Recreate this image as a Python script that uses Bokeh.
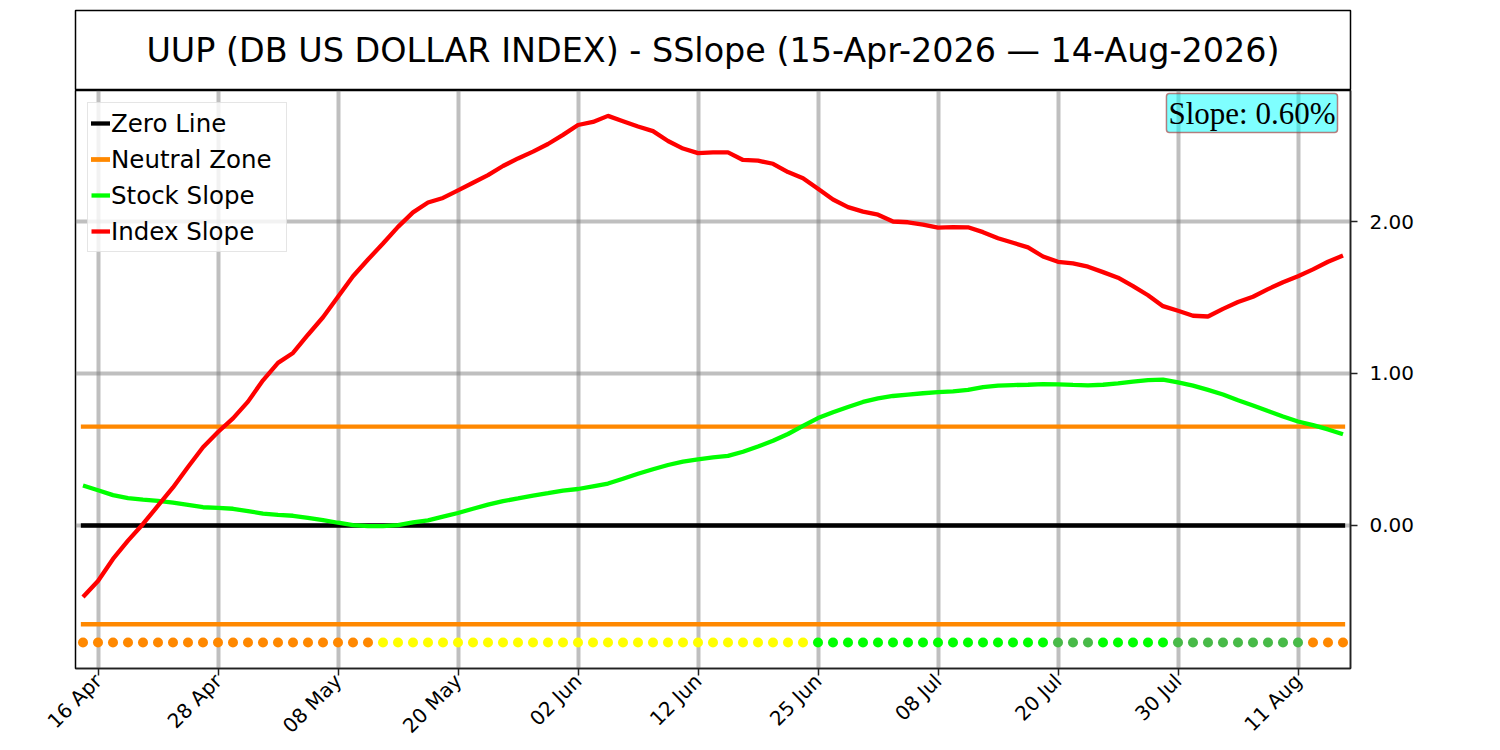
from bokeh.plotting import figure
from bokeh.models import Range1d, FixedTicker, Label, ColumnDataSource
from bokeh.layouts import column
from bokeh.embed import file_html
from bokeh.resources import INLINE

# ---------------- data ----------------
title_text = "UUP (DB US DOLLAR INDEX) - SSlope (15-Apr-2026 \u2014 14-Aug-2026)"
slope_text = "Slope: 0.60%"

index_slope = [
    -0.47, -0.365, -0.22, -0.10, 0.01, 0.13, 0.25, 0.385, 0.515, 0.615,
    0.705, 0.815, 0.955, 1.07, 1.135, 1.255, 1.37, 1.505, 1.64, 1.75,
    1.855, 1.965, 2.06, 2.125, 2.155, 2.205, 2.255, 2.305, 2.365, 2.415,
    2.46, 2.51, 2.57, 2.635, 2.655, 2.695, 2.66, 2.625, 2.595, 2.53,
    2.48, 2.45, 2.455, 2.455, 2.405, 2.40, 2.38, 2.325, 2.285, 2.215,
    2.145, 2.095, 2.065, 2.045, 2.0, 1.995, 1.98, 1.96, 1.963, 1.962,
    1.93, 1.89, 1.86, 1.83, 1.77, 1.735, 1.724, 1.703, 1.667, 1.63,
    1.575, 1.515, 1.443, 1.413, 1.38, 1.375, 1.425, 1.47, 1.505, 1.555,
    1.60, 1.64, 1.685, 1.735, 1.776,
]
stock_slope = [
    0.263, 0.232, 0.20, 0.18, 0.17, 0.162, 0.15, 0.135, 0.12, 0.116,
    0.11, 0.095, 0.078, 0.07, 0.064, 0.05, 0.035, 0.018, 0.003, -0.004,
    -0.004, 0.002, 0.02, 0.034, 0.058, 0.082, 0.11, 0.137, 0.16, 0.178,
    0.197, 0.213, 0.23, 0.24, 0.258, 0.276, 0.308, 0.34, 0.37, 0.398,
    0.42, 0.435, 0.448, 0.458, 0.485, 0.52, 0.557, 0.602, 0.655, 0.707,
    0.745, 0.78, 0.813, 0.836, 0.852, 0.861, 0.87, 0.877, 0.883, 0.892,
    0.91, 0.92, 0.924, 0.926, 0.93, 0.929, 0.925, 0.922, 0.926, 0.935,
    0.947, 0.957, 0.96, 0.942, 0.92, 0.892, 0.862, 0.824, 0.79, 0.753,
    0.717, 0.684, 0.66, 0.632, 0.60,
]
neutral_level = 0.65
dot_level = -0.77
# state dots (colour, count) runs
dot_runs = [("#FF8800", 20), ("#FFFF00", 29), ("#00FF00", 16), ("#48BA48", 3),
            ("#00FF00", 5), ("#48BA48", 9), ("#FF8800", 3)]
tick_index = [1, 9, 17, 25, 33, 41, 49, 57, 65, 73, 81]
tick_labels = ["16 Apr", "28 Apr", "08 May", "20 May", "02 Jun", "12 Jun",
               "25 Jun", "08 Jul", "20 Jul", "30 Jul", "11 Aug"]
y_ticks = [0, 1, 2]

n = len(index_slope)
x = list(range(n))
dot_colors = [c for c, k in dot_runs for _ in range(k)]

FONT = "DejaVu Sans"
W = 1500
ML, MR = 75, 150
Y0, Y1 = -0.941, 2.862
LW = 4.3

# ---------------- title box ----------------
pt = figure(width=W, height=90, output_backend="svg", toolbar_location=None,
            x_range=Range1d(0, 1), y_range=Range1d(0, 1),
            x_axis_location=None, y_axis_location=None,
            min_border_left=ML, min_border_right=MR, min_border_top=10, min_border_bottom=0)
pt.title.visible = False
pt.grid.visible = False
pt.outline_line_color = "black"
pt.outline_line_width = 1.5
pt.border_fill_color = "white"
pt.add_layout(Label(x=0.5, y=0.5, text=title_text, text_align="center", text_baseline="middle",
                    text_font=FONT, text_font_size="33.4px", text_color="black"))

# ---------------- main plot ----------------
p = figure(width=W, height=660, output_backend="svg", toolbar_location=None,
           x_range=Range1d(-0.5, 84.5), y_range=Range1d(Y0, Y1),
           y_axis_location="right",
           min_border_left=ML, min_border_right=MR, min_border_top=0, min_border_bottom=82)
p.title.visible = False
p.outline_line_color = "black"
p.outline_line_width = 1.5
p.border_fill_color = "white"

p.xaxis.ticker = FixedTicker(ticks=tick_index)
p.xaxis.major_label_overrides = {t: l for t, l in zip(tick_index, tick_labels)}
p.xaxis.major_label_orientation = 0.785398
p.yaxis.ticker = FixedTicker(ticks=y_ticks)
p.yaxis.major_label_overrides = {t: f"{t:.2f}" for t in y_ticks}
for ax in (p.xaxis[0], p.yaxis[0]):
    ax.major_label_text_font = FONT
    ax.major_label_text_font_size = "20px"
    ax.major_label_text_color = "black"
    ax.major_tick_in = 0
    ax.major_tick_out = 7
    ax.major_tick_line_width = 1.5
    ax.major_tick_line_color = "#222222"
    ax.minor_tick_line_color = None
    ax.axis_line_color = "#222222"
    ax.axis_line_width = 1.5
p.xaxis.major_label_standoff = 2
p.yaxis.major_label_standoff = 12

p.xgrid.ticker = FixedTicker(ticks=tick_index)
p.ygrid.ticker = FixedTicker(ticks=y_ticks)
for g in (p.xgrid[0], p.ygrid[0]):
    g.grid_line_color = "gray"
    g.grid_line_alpha = 0.5
    g.grid_line_width = 4

zero_y = [0.0] * n
neutral_hi = [neutral_level] * n
neutral_lo = [-neutral_level] * n
dot_y = [dot_level] * n

p.line(x, zero_y, line_color="black", line_width=LW, line_cap="square", legend_label="Zero Line")
p.line(x, neutral_hi, line_color="#FF8800", line_width=LW, line_cap="square", legend_label="Neutral Zone")
p.line(x, neutral_lo, line_color="#FF8800", line_width=LW, line_cap="square", legend_label="Neutral Zone")
p.line(x, stock_slope, line_color="#00FF00", line_width=LW, legend_label="Stock Slope")
p.line(x, index_slope, line_color="#FF0000", line_width=LW, legend_label="Index Slope")
src = ColumnDataSource(dict(x=x, y=dot_y, c=dot_colors))
p.scatter("x", "y", source=src, size=10, fill_color="c", line_color=None)

lg = p.legend[0]
lg.location = "top_left"
lg.margin = 12
lg.padding = 3
lg.spacing = 2
lg.glyph_width = 19
lg.glyph_height = 34
lg.label_height = 34
lg.label_width = 172
lg.label_standoff = 1
lg.label_text_font = FONT
lg.label_text_font_size = "24.5px"
lg.label_text_color = "black"
lg.border_line_color = "#CCCCCC"
lg.border_line_width = 1.5
lg.background_fill_alpha = 0.8

p.add_layout(Label(x=84.5, y=Y1, x_offset=-13, y_offset=-3, text=slope_text,
                   text_align="right", text_baseline="top",
                   text_font="Liberation Serif", text_font_size="31px", text_color="black",
                   background_fill_color="#00FFFF", background_fill_alpha=0.5,
                   border_line_color="#A52A2A", border_line_alpha=0.6, border_line_width=1.5,
                   padding=2, border_radius=3))

layout = column(pt, p, spacing=0)
open("out.html", "w").write(file_html(layout, INLINE))
